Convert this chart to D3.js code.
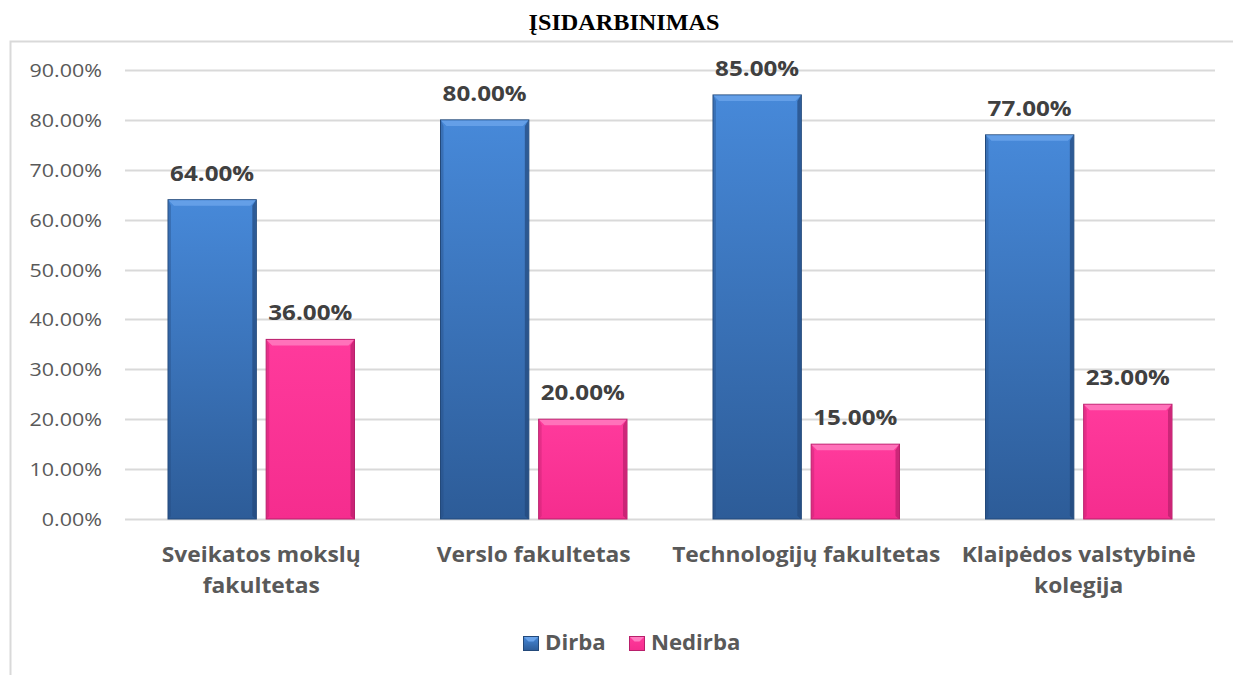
<!DOCTYPE html>
<html>
<head>
<meta charset="utf-8">
<script src="https://cdn.jsdelivr.net/npm/d3@7"></script>
<style>
  body { margin: 0; background: #fff; }
  svg { display: block; }
</style>
</head>
<body>
<div id="chart"></div>
<script>
const width = 1233;
const height = 675;

// duomenys
const categories = [
  ["Sveikatos mokslų", "fakultetas"],
  ["Verslo fakultetas"],
  ["Technologijų fakultetas"],
  ["Klaipėdos valstybinė", "kolegija"]
];
const series = ["Dirba", "Nedirba"];
const dirba = [64, 80, 85, 77];
const nedirba = [36, 20, 15, 23];
const yTicks = [0, 10, 20, 30, 40, 50, 60, 70, 80, 90];

const colors = {
  Dirba: { top: "#4789d9", bottom: "#2d5c98", edge: "#23497a", light: "#6aa3ea" },
  Nedirba: { top: "#ff3a9c", bottom: "#f52d8e", edge: "#b81f6b", light: "#ff7cc0" }
};

const font = "Open Sans, sans-serif";

// tekstą šiek tiek ištempia horizontaliai, kaip originale
function stretch(sel, k) {
  sel.each(function () {
    const w = this.getComputedTextLength();
    d3.select(this)
      .attr("textLength", w * k)
      .attr("lengthAdjust", "spacingAndGlyphs");
  });
}

const svg = d3.select("#chart").append("svg")
  .attr("width", width)
  .attr("height", height);

const defs = svg.append("defs");
series.forEach(s => {
  const g = defs.append("linearGradient")
    .attr("id", "grad-" + s)
    .attr("x1", 0).attr("y1", 0).attr("x2", 0).attr("y2", 1);
  g.append("stop").attr("offset", "0%").attr("stop-color", colors[s].top);
  g.append("stop").attr("offset", "100%").attr("stop-color", colors[s].bottom);
});

// rėmelis
svg.append("rect")
  .attr("x", 10.5).attr("y", 41.5)
  .attr("width", width + 20).attr("height", height)
  .attr("fill", "none")
  .attr("stroke", "#d9d9d9")
  .attr("stroke-width", 2);

// pavadinimas
const title = svg.append("text")
  .attr("x", 624).attr("y", 30)
  .attr("text-anchor", "middle")
  .attr("font-family", "Liberation Serif, Times New Roman, serif")
  .attr("font-weight", "bold")
  .attr("font-size", 23)
  .attr("fill", "#000")
  .text("ĮSIDARBINIMAS");
title.attr("textLength", 191).attr("lengthAdjust", "spacingAndGlyphs");

const x0 = d3.scaleBand()
  .domain(d3.range(categories.length))
  .range([125, 1215])
  .paddingInner(0)
  .paddingOuter(0);

const x1 = d3.scaleBand()
  .domain(series)
  .range([43, x0.bandwidth() - 43])
  .paddingInner(0.1);

const y = d3.scaleLinear()
  .domain([0, 90])
  .range([519, 70]);

// tinklelis
svg.append("g")
  .selectAll("line")
  .data(yTicks)
  .enter().append("line")
  .attr("x1", 125).attr("x2", 1215)
  .attr("y1", d => Math.round(y(d)) + 0.5)
  .attr("y2", d => Math.round(y(d)) + 0.5)
  .attr("stroke", "#d9d9d9")
  .attr("stroke-width", 2);

// ašies žymės
svg.append("g")
  .selectAll("text")
  .data(yTicks)
  .enter().append("text")
  .attr("x", 102)
  .attr("y", d => y(d) + 7)
  .attr("text-anchor", "end")
  .attr("font-family", font)
  .attr("font-size", 18.5)
  .attr("fill", "#595959")
  .text(d => d.toFixed(2) + "%")
  .call(stretch, 1.16);

// stulpeliai
const rows = [];
categories.forEach((c, i) => {
  rows.push({ i, s: "Dirba", v: dirba[i] });
  rows.push({ i, s: "Nedirba", v: nedirba[i] });
});

const bar = svg.append("g")
  .selectAll("g")
  .data(rows)
  .enter().append("g")
  .attr("transform", d => `translate(${x0(d.i) + x1(d.s)},0)`);

const bw = x1.bandwidth();
const bev = 6;

bar.append("rect")
  .attr("x", 0)
  .attr("y", d => y(d.v))
  .attr("width", bw)
  .attr("height", d => y(0) - y(d.v))
  .attr("fill", d => `url(#grad-${d.s})`)
  .attr("stroke", d => colors[d.s].edge)
  .attr("stroke-width", 1);

// viršutinis nuožulnumas
bar.append("polygon")
  .attr("points", d => {
    const t = y(d.v);
    return [[0.5, t + 0.5], [bw - 0.5, t + 0.5], [bw - bev, t + bev], [bev, t + bev]].join(" ");
  })
  .attr("fill", d => colors[d.s].light)
  .attr("opacity", 0.85);

// dešinysis kraštas
bar.append("polygon")
  .attr("points", d => {
    const t = y(d.v), b = y(0);
    return [[bw - 0.5, t + 0.5], [bw - 0.5, b], [bw - 4, b - 3], [bw - 4, t + bev]].join(" ");
  })
  .attr("fill", d => colors[d.s].edge)
  .attr("opacity", 0.7);

// kairysis kraštas
bar.append("polygon")
  .attr("points", d => {
    const t = y(d.v), b = y(0);
    return [[0.5, t + 0.5], [0.5, b], [3, b - 3], [3, t + bev]].join(" ");
  })
  .attr("fill", d => colors[d.s].edge)
  .attr("opacity", 0.35);

// reikšmių etiketės
bar.append("text")
  .attr("x", bw / 2)
  .attr("y", d => y(d.v) - 19)
  .attr("text-anchor", "middle")
  .attr("font-family", font)
  .attr("font-weight", "bold")
  .attr("font-size", 22)
  .attr("fill", "#404040")
  .text(d => d.v.toFixed(2) + "%")
  .call(stretch, 1.1);

// kategorijų pavadinimai
const cat = svg.append("g")
  .selectAll("text")
  .data(categories)
  .enter().append("text")
  .attr("x", (d, i) => x0(i) + x0.bandwidth() / 2)
  .attr("y", 562)
  .attr("text-anchor", "middle")
  .attr("font-family", font)
  .attr("font-weight", "bold")
  .attr("font-size", 21.5)
  .attr("fill", "#595959");

cat.selectAll("tspan")
  .data(d => d)
  .enter().append("tspan")
  .attr("x", function () { return d3.select(this.parentNode).attr("x"); })
  .attr("dy", (d, i) => i === 0 ? "0px" : "31px")
  .text(d => d)
  .call(stretch, 1.06);

// legenda
const legendX = [523, 629];
const legend = svg.append("g")
  .selectAll("g")
  .data(series)
  .enter().append("g")
  .attr("transform", (d, i) => `translate(${legendX[i]},636)`);

legend.append("rect")
  .attr("x", 0.5).attr("y", 0.5)
  .attr("width", 15).attr("height", 14)
  .attr("fill", d => `url(#grad-${d})`)
  .attr("stroke", d => colors[d].edge);

legend.append("polygon")
  .attr("points", "1,1 15,1 10.5,5.5 5.5,5.5")
  .attr("fill", d => colors[d].light);

legend.append("text")
  .attr("x", 22).attr("y", 14)
  .attr("font-family", font)
  .attr("font-weight", "bold")
  .attr("font-size", 21.5)
  .attr("fill", "#595959")
  .text(d => d)
  .call(stretch, 1.03);
</script>
</body>
</html>
